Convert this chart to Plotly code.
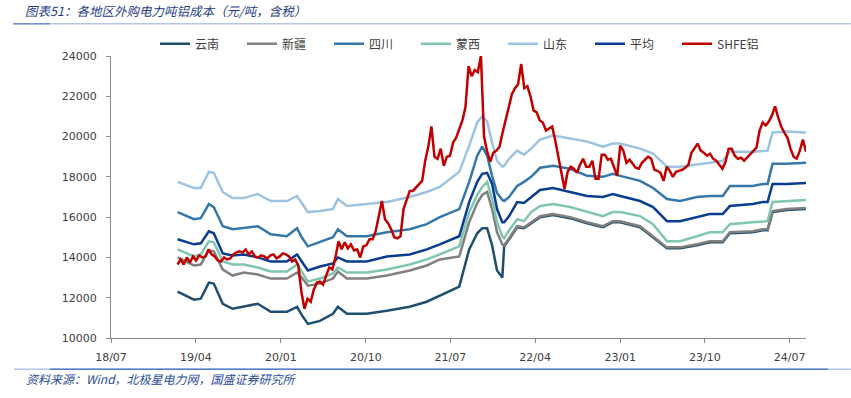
import plotly.graph_objects as go
import pandas as pd

# ---- data ----
cost_dates = [
    "2019-02-01", "2019-03-26", "2019-04-17", "2019-05-13", "2019-05-29", "2019-06-27", "2019-07-29", "2019-09-03", "2019-10-18", "2019-11-29",
    "2020-01-20", "2020-02-22", "2020-03-08", "2020-03-28", "2020-05-06", "2020-06-17", "2020-07-03", "2020-08-01", "2020-10-04", "2020-12-08",
    "2021-02-20", "2021-04-16", "2021-05-28", "2021-07-30", "2021-08-31", "2021-09-26", "2021-10-12", "2021-10-28", "2021-11-13", "2021-11-29",
    "2021-12-16", "2021-12-22", "2022-01-07", "2022-02-02", "2022-02-24", "2022-03-19", "2022-04-17", "2022-05-29", "2022-07-23", "2022-09-16",
    "2022-11-06", "2022-12-08", "2023-01-01", "2023-03-06", "2023-04-17", "2023-06-01", "2023-07-13", "2023-09-06", "2023-10-17", "2023-11-28",
    "2023-12-21", "2024-03-04", "2024-04-05", "2024-04-21", "2024-05-07", "2024-06-21", "2024-08-23",
]

yunnan = [
    12300, 11900, 11950, 12750, 12700, 11700, 11450, 11550, 11700, 11300,
    11300, 11550, 11150, 10700, 10850, 11200, 11550, 11200, 11200, 11350,
    11550, 11800, 12100, 12550, 14400, 15200, 15450, 15450, 14600, 13350,
    13000, 14550, 14900, 15500, 15450, 15700, 16000, 16100, 15950, 15700,
    15500, 15750, 15750, 15500, 15000, 14450, 14450, 14600, 14750, 14750,
    15200, 15250, 15350, 15350, 16250, 16350, 16400,
]
xinjiang = [
    14000, 13600, 13650, 14350, 14300, 13400, 13100, 13250, 13150, 12950,
    12950, 13250, 13000, 12600, 12700, 12950, 13300, 12950, 12950, 13100,
    13350, 13600, 13900, 14050, 15750, 16700, 17100, 17250, 16400, 15250,
    14650, 14600, 14950, 15550, 15500, 15750, 16050, 16150, 16000, 15750,
    15550, 15800, 15800, 15550, 15050, 14500, 14500, 14650, 14800, 14800,
    15250, 15300, 15400, 15400, 16300, 16400, 16450,
]
sichuan = [
    16250, 15900, 15950, 16650, 16500, 15550, 15400, 15450, 15550, 15150,
    15050, 15450, 15000, 14550, 14750, 15000, 15400, 15050, 15050, 15250,
    15400, 15650, 16000, 16400, 17750, 19050, 19500, 19050, 18050, 17200,
    16850, 16800, 17000, 17550, 17750, 18000, 18450, 18550, 18400, 18050,
    18000, 18150, 18050, 17800, 17450, 16900, 16800, 17000, 17050, 17050,
    17550, 17550, 17650, 17650, 18650, 18650, 18700,
]
mengxi = [
    14400, 14050, 14150, 14800, 14750, 13800, 13650, 13650, 13500, 13300,
    13300, 13650, 13300, 12800, 12950, 13200, 13500, 13250, 13250, 13400,
    13650, 13900, 14150, 14550, 16250, 17100, 17500, 17750, 16900, 15750,
    15050, 14950, 15350, 15900, 15800, 16250, 16550, 16650, 16500, 16250,
    16050, 16250, 16250, 16050, 15650, 14800, 14800, 15050, 15250, 15250,
    15650, 15750, 15800, 15800, 16750, 16800, 16850,
]
shandong = [
    17750, 17450, 17450, 18250, 18200, 17250, 16950, 16950, 17150, 16800,
    16800, 17050, 16700, 16250, 16300, 16400, 16900, 16550, 16650, 16750,
    17000, 17250, 17500, 18250, 19550, 20700, 21000, 20750, 19700, 18800,
    18500, 18550, 18900, 19300, 19100, 19400, 19850, 20050, 19900, 19750,
    19500, 19650, 19650, 19400, 19150, 18500, 18500, 18600, 18700, 18800,
    19250, 19250, 19300, 19300, 20200, 20250, 20200,
]
average = [
    14900, 14650, 14700, 15300, 15200, 14200, 14100, 14150, 14000, 13800,
    13800, 14150, 13800, 13350, 13550, 13700, 14000, 13800, 13800, 14050,
    14150, 14400, 14650, 15050, 16750, 17750, 18150, 18200, 17650, 16400,
    15750, 15750, 16050, 16750, 16700, 17000, 17350, 17450, 17250, 17050,
    17000, 17150, 17050, 16800, 16500, 15800, 15800, 16000, 16150, 16150,
    16550, 16650, 16750, 16750, 17650, 17650, 17700,
]

# SHFE aluminium, sampled every 10 days from 2019-02-01
shfe_start = "2019-02-01"
shfe = [
    13650, 13900, 13650, 14000, 13750, 14050, 13850, 14100, 14000, 14050,
    14400, 14150, 14050, 13850, 13800, 14000, 13900, 13950, 14150, 14250,
    14300, 14250, 14400, 14150, 14300, 14050, 14000, 14100, 14050, 13950,
    14100, 14150, 13950, 14050, 14200, 14150, 14050, 13800, 13900, 13600,
    12300, 11450, 11950, 11800, 12400, 12750, 12800, 12650, 13100, 13500,
    13400, 14000, 14800, 14400, 14750, 14450, 14650, 14350, 14400, 14000,
    14550, 14600, 14900, 14900, 15300, 16000, 16800, 15900, 15700, 15400,
    15000, 14950, 15050, 16400, 16900, 17300, 17300, 17450, 17600, 17800,
    18800, 19500, 20500, 19000, 18900, 19400, 18550, 19000, 19050, 19700,
    19950, 20400, 20800, 21450, 23500, 23000, 23300, 23200, 24000, 20000,
    19250, 18750, 19200, 19300, 19500, 20200, 20850, 21500, 22100, 22400,
    22600, 23600, 22400, 22500, 22000, 21300, 21200, 20800, 20700, 20300,
    20400, 20500, 19800, 19000, 18100, 17400, 18250, 18500, 18400, 18200,
    18600, 18900, 18500, 18500, 18800, 17900, 17900, 19100, 19100, 18850,
    18900, 18450, 18050, 19550, 19300, 18700, 18850, 18650, 18450, 18400,
    18700, 18850, 19000, 18900, 18350, 18300, 18200, 17800, 18500, 18300,
    18000, 18250, 18300, 18350, 18450, 18600, 19200, 19450, 19650, 19300,
    19200, 19050, 19150, 18900, 18800, 18600, 18400, 18750, 19400, 19400,
    19050, 18900, 18950, 18800, 18950, 19100, 19250, 19450, 20300, 20700,
    20550, 20750, 21050, 21500, 20950, 20500, 20200, 19950, 19400, 19000,
    18900, 19300, 19850, 19250,
]
shfe_dates = pd.date_range(shfe_start, periods=len(shfe), freq="10D")

series = [
    ("云南", yunnan, "#1f4e6e"),
    ("新疆", xinjiang, "#808080"),
    ("四川", sichuan, "#3677aa"),
    ("蒙西", mengxi, "#80c5b0"),
    ("山东", shandong, "#9dc3e2"),
    ("平均", average, "#0a3d91"),
]

x_ticks_start = "2018-07-01"
x_end = "2024-08-23"
title_text = "图表51：各地区外购电力吨铝成本（元/吨，含税）"
source_text = "资料来源：Wind，北极星电力网，国盛证券研究所"

# ---- figure ----
fig = go.Figure()
for name, vals, color in series:
    fig.add_trace(go.Scatter(
        x=pd.to_datetime(cost_dates), y=vals, name=name, mode="lines",
        line=dict(color=color, width=2.5),
    ))
fig.add_trace(go.Scatter(
    x=shfe_dates, y=shfe, name="SHFE铝", mode="lines",
    line=dict(color="#c00000", width=2.5),
))

axis_color = "#8a8a8a"
tick_font = dict(family="DejaVu Sans", size=11, color="#404040")

fig.update_layout(
    width=851, height=398,
    margin=dict(l=111, r=45, t=56, b=60, autoexpand=False),
    paper_bgcolor="white", plot_bgcolor="white",
    showlegend=True,
    legend=dict(
        orientation="h", x=0.0633, xanchor="left", y=1.043, yanchor="middle",
        font=dict(family="Noto Sans CJK SC", size=12, color="#404040"),
        entrywidth=42, entrywidthmode="pixels",
        bgcolor="rgba(0,0,0,0)", itemwidth=30,
    ),
    xaxis=dict(
        type="date", range=[x_ticks_start, x_end],
        tick0=x_ticks_start, dtick="M9", tickformat="%y/%m",
        showline=True, linecolor=axis_color, linewidth=1,
        ticks="outside", ticklen=4, tickcolor=axis_color,
        showgrid=False, zeroline=False, tickfont=tick_font,
        ticklabelstandoff=5, automargin=False,
    ),
    yaxis=dict(
        range=[10000, 24000], dtick=2000, tickformat="d",
        showline=True, linecolor=axis_color, linewidth=1,
        ticks="outside", ticklen=4, tickcolor=axis_color,
        showgrid=False, zeroline=False, tickfont=tick_font,
        ticklabelstandoff=7, automargin=False,
    ),
    annotations=[
        dict(text=title_text, xref="paper", yref="paper", x=-0.1266, y=1.161,
             xanchor="left", yanchor="middle", showarrow=False,
             font=dict(family="Noto Sans CJK SC", size=12.5, color="#1f3c88", style="italic")),
        dict(text=source_text, xref="paper", yref="paper", x=-0.125, y=-0.1427,
             xanchor="left", yanchor="middle", showarrow=False,
             font=dict(family="Noto Sans CJK SC", size=12, color="#2b4c9b", style="italic")),
    ],
    shapes=[
        # rule under the title
        dict(type="line", xref="paper", yref="paper", x0=-0.141, x1=1.0647, y0=1.114, y1=1.114,
             line=dict(color="#b4c7e7", width=1.5)),
        dict(type="line", xref="paper", yref="paper", x0=-0.141, x1=-0.0878, y0=1.114, y1=1.114,
             line=dict(color="#6f91cc", width=1.5)),
        # rule above the source
        dict(type="line", xref="paper", yref="paper", x0=-0.1396, x1=1.0647, y0=-0.1108, y1=-0.1108,
             line=dict(color="#aec6ea", width=1.5)),
        dict(type="line", xref="paper", yref="paper", x0=-0.0878, x1=1.0317, y0=-0.1108, y1=-0.1108,
             line=dict(color="#4f7fc9", width=1.5)),
    ],
)

fig.write_html(
    "out.html",
    config={"displayModeBar": False},
    post_script="document.body.style.margin='0px';",
)
